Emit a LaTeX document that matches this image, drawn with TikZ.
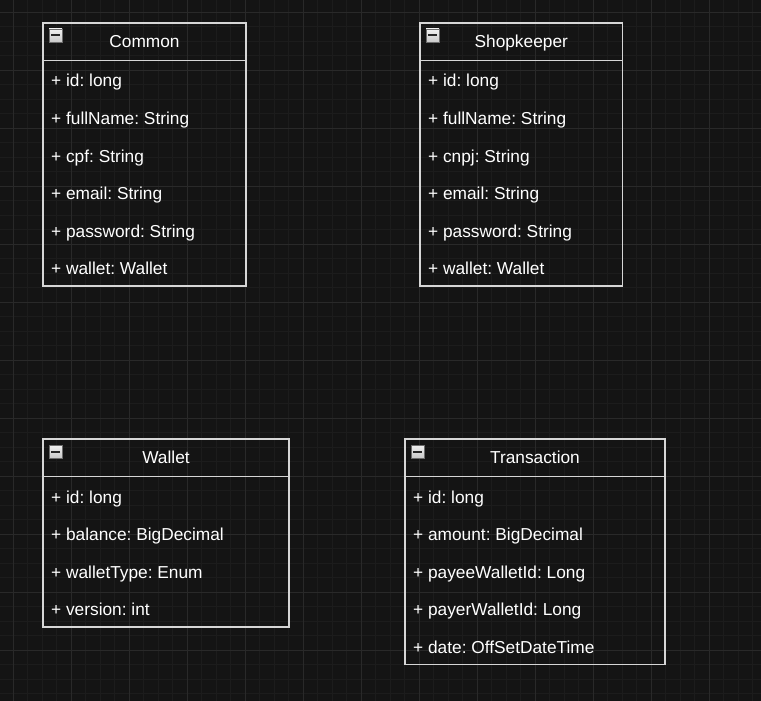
\documentclass[tikz,border=0pt]{standalone}
\usepackage{fontspec}
\setmainfont{Liberation Sans}
\usepackage{xcolor}
\usetikzlibrary{positioning}
\frenchspacing

\definecolor{canvas}{HTML}{141414}
\definecolor{minorline}{HTML}{1C1C1C}
\definecolor{majorline}{HTML}{292929}
\definecolor{boxline}{HTML}{D6D6D6}

\tikzset{
  classhead/.style={draw=boxline,line width=1.3pt,anchor=north west,inner sep=0pt,outer sep=0pt,minimum height=37.5pt},
  classbody/.style={draw=boxline,line width=1.3pt,anchor=north west,inner sep=0pt,outer sep=0pt},
  classtitle/.style={text=white,anchor=base,inner sep=0pt,font=\fontsize{17.3}{20}\selectfont},
  classrow/.style={text=white,anchor=base west,inner sep=0pt,font=\fontsize{17.3}{20}\selectfont},
  collapse/.style={draw=gray!85!black,line width=0.9pt,top color=gray!12,bottom color=gray!42,
    minimum size=13pt,inner sep=0pt,
    path picture={\draw[line width=2pt,black!85]
      ([xshift=2.3pt]path picture bounding box.west) -- ([xshift=-2.3pt]path picture bounding box.east);}}
}

\begin{document}
\begin{tikzpicture}[x=1pt,y=-1pt]
  \useasboundingbox (0,0) rectangle (761,701);
  \fill[canvas] (0,0) rectangle (761,701);
  % grid
  \foreach \k in {0,...,51}
    \draw[minorline,line width=0.7pt] (13.3+14.5*\k,0) -- (13.3+14.5*\k,701);
  \foreach \k in {0,...,47}
    \draw[minorline,line width=0.7pt] (0,12.3+14.5*\k) -- (761,12.3+14.5*\k);
  \foreach \k in {0,...,12}
    \draw[majorline,line width=0.8pt] (13.3+58*\k,0) -- (13.3+58*\k,701);
  \foreach \k in {0,...,11}
    \draw[majorline,line width=0.8pt] (0,12.3+58*\k) -- (761,12.3+58*\k);

  % Common
  \node[classhead,minimum width=203pt] (common) at (43,23) {};
  \node[classbody,minimum width=203pt,minimum height=225.5pt] (common-body) at (common.south west) {};
  \node[classtitle] (common-title) at ([yshift=-24.5pt]common.north) {Common};
  \node[collapse] (common-icon) at ([xshift=12.5pt,yshift=-12.5pt]common.north west) {};
  \foreach \t [count=\i] in {+ id: long,+ fullName: String,+ cpf: String,+ email: String,+ password: String,+ wallet: Wallet}
    \node[classrow] (common-\i) at ([xshift=8pt,yshift={-26.5pt-37.5pt*(\i-1)}]common-body.north west) {\t};

  % Shopkeeper
  \node[classhead,minimum width=202.5pt] (shopkeeper) at (420,23) {};
  \node[classbody,minimum width=202.5pt,minimum height=225.5pt] (shopkeeper-body) at (shopkeeper.south west) {};
  \node[classtitle] (shopkeeper-title) at ([yshift=-24.5pt]shopkeeper.north) {Shopkeeper};
  \node[collapse] (shopkeeper-icon) at ([xshift=12.5pt,yshift=-12.5pt]shopkeeper.north west) {};
  \foreach \t [count=\i] in {+ id: long,+ fullName: String,+ cnpj: String,+ email: String,+ password: String,+ wallet: Wallet}
    \node[classrow] (shopkeeper-\i) at ([xshift=8pt,yshift={-26.5pt-37.5pt*(\i-1)}]shopkeeper-body.north west) {\t};

  % Wallet
  \node[classhead,minimum width=246pt] (wallet) at (43,439) {};
  \node[classbody,minimum width=246pt,minimum height=150.5pt] (wallet-body) at (wallet.south west) {};
  \node[classtitle] (wallet-title) at ([yshift=-24.5pt]wallet.north) {Wallet};
  \node[collapse] (wallet-icon) at ([xshift=12.5pt,yshift=-12.5pt]wallet.north west) {};
  \foreach \t [count=\i] in {+ id: long,+ balance: BigDecimal,+ walletType: Enum,+ version: int}
    \node[classrow] (wallet-\i) at ([xshift=8pt,yshift={-26.5pt-37.5pt*(\i-1)}]wallet-body.north west) {\t};

  % Transaction
  \node[classhead,minimum width=260pt] (transaction) at (405,439) {};
  \node[classbody,minimum width=260pt,minimum height=188pt] (transaction-body) at (transaction.south west) {};
  \node[classtitle] (transaction-title) at ([yshift=-24.5pt]transaction.north) {Transaction};
  \node[collapse] (transaction-icon) at ([xshift=12.5pt,yshift=-12.5pt]transaction.north west) {};
  \foreach \t [count=\i] in {+ id: long,+ amount: BigDecimal,+ payeeWalletId: Long,+ payerWalletId: Long,+ date: OffSetDateTime}
    \node[classrow] (transaction-\i) at ([xshift=8pt,yshift={-26.5pt-37.5pt*(\i-1)}]transaction-body.north west) {\t};
\end{tikzpicture}
\end{document}
